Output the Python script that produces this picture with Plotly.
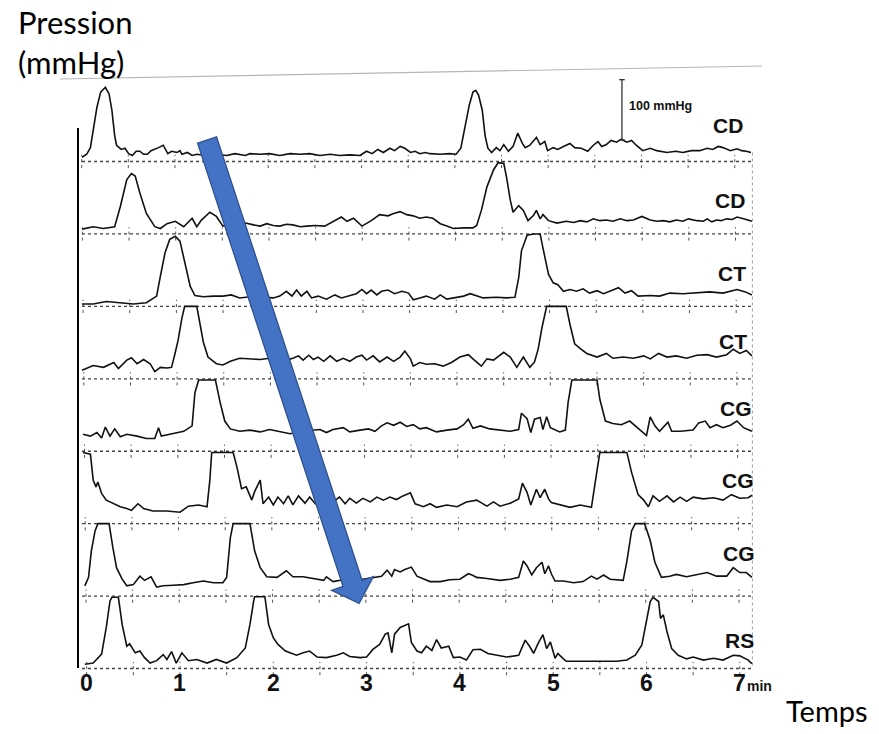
import math
import plotly.graph_objects as go

# ---------------------------------------------------------------------------
# Oesophageal manometry channels: (time in min, pressure in mmHg above baseline)
# ---------------------------------------------------------------------------
CD_1 = [(-0.05, 7), (0.00, 12), (0.04, 23), (0.08, 60), (0.11, 90), (0.15, 115), (0.20, 123), (0.24, 112),
        (0.27, 85), (0.30, 43), (0.32, 27), (0.37, 20), (0.41, 22), (0.45, 13), (0.49, 10), (0.53, 17),
        (0.57, 17), (0.61, 12), (0.65, 12), (0.69, 18), (0.73, 20), (0.77, 23), (0.82, 27), (0.85, 18),
        (0.87, 13), (0.91, 17), (0.97, 15), (1.00, 18), (1.02, 12), (1.08, 15), (1.13, 10), (1.18, 12),
        (1.27, 10), (1.38, 12), (1.50, 10), (1.59, 13), (1.70, 10), (1.75, 13), (1.86, 12), (1.96, 13),
        (2.07, 10), (2.18, 13), (2.29, 12), (2.39, 13), (2.50, 10), (2.61, 12), (2.71, 10), (2.82, 11),
        (2.93, 10), (3.00, 17), (3.06, 13), (3.12, 20), (3.18, 15), (3.25, 22), (3.30, 18), (3.36, 25),
        (3.41, 22), (3.47, 15), (3.52, 17), (3.57, 13), (3.63, 15), (3.68, 13), (3.79, 12), (3.89, 13),
        (3.96, 12), (4.01, 22), (4.05, 52), (4.10, 93), (4.14, 115), (4.17, 118), (4.20, 110), (4.24, 85),
        (4.27, 43), (4.30, 22), (4.34, 15), (4.39, 23), (4.43, 18), (4.47, 28), (4.52, 17), (4.57, 25),
        (4.62, 47), (4.67, 30), (4.70, 23), (4.75, 27), (4.82, 40), (4.86, 28), (4.91, 33), (4.94, 18),
        (5.00, 23), (5.05, 20), (5.11, 25), (5.18, 30), (5.23, 23), (5.30, 22), (5.37, 17), (5.43, 27),
        (5.48, 33), (5.52, 25), (5.57, 28), (5.62, 35), (5.68, 32), (5.73, 37), (5.79, 32), (5.84, 35),
        (5.89, 27), (5.96, 18), (6.04, 22), (6.11, 18), (6.22, 15), (6.31, 17), (6.39, 15), (6.48, 18),
        (6.57, 18), (6.65, 22), (6.71, 20), (6.77, 25), (6.82, 23), (6.90, 18), (6.97, 21), (7.02, 18),
        (7.07, 17), (7.12, 15)]

CD_2 = [(-0.05, 8), (0.07, 12), (0.18, 9), (0.30, 12), (0.36, 45), (0.43, 90), (0.48, 100), (0.52, 96),
        (0.57, 68), (0.64, 34), (0.73, 12), (0.79, 9), (0.86, 17), (0.95, 21), (1.04, 12), (1.13, 26),
        (1.18, 12), (1.23, 23), (1.32, 36), (1.39, 29), (1.46, 13), (1.54, 16), (1.62, 15), (1.70, 18),
        (1.79, 15), (1.86, 13), (1.93, 17), (2.00, 14), (2.07, 13), (2.14, 16), (2.21, 15), (2.29, 12),
        (2.36, 13), (2.45, 14), (2.55, 13), (2.64, 21), (2.73, 28), (2.79, 21), (2.86, 26), (2.95, 13),
        (3.05, 22), (3.14, 32), (3.23, 30), (3.29, 34), (3.36, 37), (3.43, 32), (3.50, 30), (3.57, 26),
        (3.64, 28), (3.71, 26), (3.79, 17), (3.86, 13), (3.93, 9), (4.04, 10), (4.14, 10), (4.18, 14),
        (4.23, 39), (4.29, 78), (4.36, 106), (4.41, 118), (4.47, 117), (4.50, 94), (4.54, 56), (4.57, 36),
        (4.63, 47), (4.68, 39), (4.73, 22), (4.79, 31), (4.82, 39), (4.86, 25), (4.89, 32), (4.95, 22),
        (5.04, 18), (5.14, 21), (5.22, 19), (5.29, 22), (5.36, 20), (5.43, 25), (5.50, 22), (5.57, 23),
        (5.64, 21), (5.72, 25), (5.79, 22), (5.86, 23), (5.95, 29), (6.04, 23), (6.11, 21), (6.18, 22),
        (6.25, 20), (6.32, 23), (6.39, 21), (6.45, 25), (6.54, 22), (6.61, 21), (6.65, 25), (6.70, 20),
        (6.75, 23), (6.80, 22), (6.86, 25), (6.92, 24), (6.97, 28), (7.04, 25), (7.13, 21)]

CT_1 = [(-0.05, 4), (0.07, 4), (0.21, 8), (0.36, 6), (0.50, 4), (0.64, 6), (0.75, 17), (0.79, 50),
        (0.84, 89), (0.89, 111), (0.95, 116), (1.00, 108), (1.05, 72), (1.11, 33), (1.16, 18), (1.25, 16),
        (1.36, 17), (1.46, 17), (1.55, 19), (1.64, 14), (1.75, 16), (1.86, 15), (2.00, 14), (2.07, 17),
        (2.14, 25), (2.20, 17), (2.25, 27), (2.30, 17), (2.36, 25), (2.41, 14), (2.48, 17), (2.57, 12),
        (2.66, 19), (2.73, 14), (2.82, 18), (2.89, 21), (2.95, 28), (3.00, 21), (3.05, 27), (3.11, 19),
        (3.16, 25), (3.23, 27), (3.30, 21), (3.38, 25), (3.45, 22), (3.50, 11), (3.57, 14), (3.64, 17),
        (3.73, 12), (3.79, 19), (3.86, 12), (3.95, 14), (4.04, 17), (4.11, 21), (4.18, 17), (4.25, 14),
        (4.39, 15), (4.50, 14), (4.59, 15), (4.63, 47), (4.66, 92), (4.72, 118), (4.79, 120), (4.86, 120),
        (4.89, 97), (4.95, 53), (5.00, 39), (5.05, 36), (5.11, 25), (5.18, 28), (5.25, 25), (5.32, 29),
        (5.39, 22), (5.47, 26), (5.54, 21), (5.61, 25), (5.70, 31), (5.77, 22), (5.84, 26), (5.91, 17),
        (6.04, 18), (6.14, 17), (6.25, 22), (6.39, 21), (6.54, 22), (6.68, 24), (6.82, 22), (6.97, 28),
        (7.06, 24), (7.13, 19)]

CT_2 = [(-0.05, 14), (0.07, 22), (0.18, 19), (0.29, 27), (0.34, 17), (0.43, 31), (0.48, 35), (0.54, 25),
        (0.61, 32), (0.68, 25), (0.73, 12), (0.79, 19), (0.86, 18), (0.91, 19), (0.95, 44), (0.98, 64),
        (1.02, 100), (1.05, 120), (1.18, 120), (1.21, 95), (1.25, 61), (1.30, 36), (1.39, 25), (1.46, 23),
        (1.54, 29), (1.64, 34), (1.75, 33), (1.86, 32), (1.96, 34), (2.07, 33), (2.14, 31), (2.21, 34),
        (2.27, 38), (2.32, 31), (2.38, 39), (2.43, 32), (2.48, 36), (2.54, 29), (2.61, 38), (2.68, 29),
        (2.75, 34), (2.82, 29), (2.89, 36), (2.95, 39), (3.00, 31), (3.07, 38), (3.14, 28), (3.22, 36),
        (3.29, 29), (3.36, 36), (3.41, 46), (3.47, 33), (3.50, 21), (3.57, 27), (3.64, 24), (3.73, 25),
        (3.82, 21), (3.91, 27), (4.00, 36), (4.09, 40), (4.14, 33), (4.23, 21), (4.29, 33), (4.36, 31),
        (4.47, 44), (4.54, 36), (4.61, 19), (4.68, 36), (4.75, 19), (4.80, 28), (4.84, 50), (4.88, 85),
        (4.93, 120), (5.14, 120), (5.18, 90), (5.23, 58), (5.29, 50), (5.36, 42), (5.47, 36), (5.57, 42),
        (5.64, 34), (5.75, 36), (5.86, 34), (5.97, 38), (6.04, 33), (6.13, 42), (6.22, 36), (6.32, 38),
        (6.43, 34), (6.54, 39), (6.65, 40), (6.75, 36), (6.86, 40), (6.93, 49), (7.00, 42), (7.07, 47),
        (7.13, 38)]

CG_1 = [(-0.04, 28), (0.04, 25), (0.11, 31), (0.16, 22), (0.20, 40), (0.25, 25), (0.30, 37), (0.36, 24),
        (0.43, 28), (0.54, 25), (0.64, 21), (0.73, 21), (0.77, 39), (0.80, 25), (0.89, 28), (1.04, 33),
        (1.13, 42), (1.16, 97), (1.20, 118), (1.38, 118), (1.43, 81), (1.48, 50), (1.54, 37), (1.64, 33),
        (1.75, 35), (1.86, 32), (1.96, 36), (2.07, 33), (2.18, 29), (2.30, 33), (2.43, 35), (2.50, 36),
        (2.57, 31), (2.64, 36), (2.75, 39), (2.82, 32), (2.93, 35), (3.02, 37), (3.09, 33), (3.16, 42),
        (3.22, 47), (3.29, 43), (3.36, 48), (3.43, 41), (3.50, 44), (3.57, 37), (3.64, 39), (3.75, 32),
        (3.86, 35), (3.97, 37), (4.04, 44), (4.09, 53), (4.14, 38), (4.22, 42), (4.32, 37), (4.43, 35),
        (4.54, 33), (4.63, 36), (4.66, 63), (4.72, 54), (4.76, 31), (4.80, 53), (4.86, 56), (4.89, 36),
        (4.93, 57), (4.97, 39), (5.02, 35), (5.07, 32), (5.13, 35), (5.16, 81), (5.20, 118), (5.47, 118),
        (5.50, 86), (5.56, 50), (5.64, 46), (5.73, 44), (5.82, 50), (5.88, 42), (5.95, 32), (6.00, 26),
        (6.04, 57), (6.09, 42), (6.14, 33), (6.23, 48), (6.27, 33), (6.36, 33), (6.50, 35), (6.56, 47),
        (6.63, 50), (6.68, 39), (6.75, 44), (6.82, 39), (6.90, 43), (6.97, 50), (7.04, 39), (7.13, 33)]

CG_2 = [(-0.04, 118), (0.04, 115), (0.07, 72), (0.10, 61), (0.12, 69), (0.16, 50), (0.21, 39), (0.29, 33),
        (0.36, 28), (0.43, 25), (0.48, 22), (0.55, 33), (0.61, 25), (0.71, 21), (0.86, 21), (1.00, 19),
        (1.09, 29), (1.20, 31), (1.29, 28), (1.32, 72), (1.34, 118), (1.57, 118), (1.61, 94), (1.66, 58),
        (1.71, 61), (1.77, 39), (1.80, 53), (1.86, 72), (1.89, 33), (1.95, 44), (2.00, 31), (2.05, 44),
        (2.11, 33), (2.16, 46), (2.21, 31), (2.27, 46), (2.34, 34), (2.39, 44), (2.45, 33), (2.55, 40),
        (2.64, 36), (2.71, 44), (2.77, 33), (2.82, 42), (2.89, 34), (2.96, 42), (3.04, 36), (3.11, 44),
        (3.18, 39), (3.25, 44), (3.32, 40), (3.39, 46), (3.47, 51), (3.52, 33), (3.61, 28), (3.68, 33),
        (3.75, 27), (3.86, 31), (3.97, 28), (4.07, 36), (4.18, 39), (4.29, 29), (4.36, 36), (4.43, 29),
        (4.54, 34), (4.63, 41), (4.67, 67), (4.72, 52), (4.76, 31), (4.82, 57), (4.86, 43), (4.91, 57),
        (4.95, 41), (4.98, 35), (5.07, 31), (5.18, 27), (5.29, 31), (5.36, 29), (5.41, 27), (5.45, 68),
        (5.50, 118), (5.79, 118), (5.84, 85), (5.91, 48), (5.97, 39), (6.02, 28), (6.07, 46), (6.14, 37),
        (6.22, 46), (6.29, 36), (6.36, 44), (6.43, 37), (6.50, 44), (6.61, 41), (6.72, 43), (6.82, 39),
        (6.91, 48), (7.00, 42), (7.09, 43), (7.13, 47)]

CG_3 = [(-0.02, 17), (0.02, 31), (0.05, 75), (0.09, 108), (0.12, 120), (0.24, 120), (0.28, 81), (0.32, 47),
        (0.38, 28), (0.43, 17), (0.50, 19), (0.57, 33), (0.62, 26), (0.69, 32), (0.75, 15), (0.82, 17),
        (0.93, 18), (1.04, 19), (1.14, 22), (1.25, 25), (1.36, 22), (1.46, 22), (1.50, 31), (1.54, 97),
        (1.57, 120), (1.75, 120), (1.80, 75), (1.86, 47), (1.93, 32), (2.04, 31), (2.14, 42), (2.21, 32),
        (2.32, 32), (2.43, 29), (2.54, 26), (2.57, 32), (2.64, 24), (2.75, 27), (2.86, 25), (2.96, 28),
        (3.07, 31), (3.16, 33), (3.22, 43), (3.27, 33), (3.30, 44), (3.36, 40), (3.41, 44), (3.48, 48),
        (3.54, 33), (3.61, 29), (3.68, 24), (3.79, 24), (3.89, 27), (4.00, 28), (4.09, 37), (4.13, 35),
        (4.18, 31), (4.29, 29), (4.43, 26), (4.54, 28), (4.63, 31), (4.68, 58), (4.72, 50), (4.77, 35),
        (4.82, 47), (4.88, 56), (4.91, 37), (4.95, 50), (4.98, 37), (5.02, 25), (5.11, 25), (5.22, 22),
        (5.32, 24), (5.41, 33), (5.47, 28), (5.54, 35), (5.61, 28), (5.75, 26), (5.79, 58), (5.84, 108),
        (5.88, 120), (5.98, 120), (6.04, 92), (6.09, 56), (6.16, 31), (6.25, 33), (6.32, 36), (6.43, 32),
        (6.54, 36), (6.65, 39), (6.75, 33), (6.86, 33), (6.93, 47), (7.00, 39), (7.07, 39), (7.13, 31)]

RS_1 = [(-0.02, 7), (0.07, 9), (0.16, 24), (0.21, 68), (0.25, 112), (0.27, 118), (0.34, 118), (0.38, 73),
        (0.43, 37), (0.46, 41), (0.52, 26), (0.57, 29), (0.62, 18), (0.68, 9), (0.75, 13), (0.82, 23),
        (0.86, 15), (0.91, 28), (0.96, 9), (1.02, 26), (1.09, 13), (1.18, 15), (1.29, 9), (1.39, 15),
        (1.50, 9), (1.61, 18), (1.70, 34), (1.75, 73), (1.79, 112), (1.80, 119), (1.91, 119), (1.95, 73),
        (2.00, 51), (2.05, 40), (2.13, 29), (2.18, 26), (2.25, 22), (2.32, 26), (2.39, 29), (2.47, 19),
        (2.57, 18), (2.68, 22), (2.75, 26), (2.82, 20), (2.93, 18), (3.00, 19), (3.07, 32), (3.14, 40),
        (3.20, 57), (3.23, 59), (3.27, 26), (3.30, 57), (3.36, 68), (3.45, 74), (3.48, 43), (3.54, 29),
        (3.59, 26), (3.64, 37), (3.70, 30), (3.75, 48), (3.80, 34), (3.88, 37), (3.93, 18), (4.00, 19),
        (4.07, 14), (4.14, 31), (4.22, 32), (4.30, 25), (4.39, 22), (4.50, 19), (4.63, 22), (4.70, 47),
        (4.75, 36), (4.79, 25), (4.84, 42), (4.89, 56), (4.93, 33), (4.97, 44), (5.02, 17), (5.05, 25),
        (5.11, 16), (5.14, 12), (5.32, 12), (5.50, 12), (5.68, 12), (5.79, 14), (5.88, 22), (5.95, 39),
        (6.00, 78), (6.04, 111), (6.07, 118), (6.13, 111), (6.15, 83), (6.18, 89), (6.22, 61), (6.27, 33),
        (6.34, 22), (6.43, 16), (6.50, 19), (6.61, 14), (6.72, 17), (6.82, 14), (6.93, 22), (7.00, 21),
        (7.09, 14), (7.13, 8)]

CHANNELS = [CD_1, CD_2, CT_1, CT_2, CG_1, CG_2, CG_3, RS_1]
CHANNEL_NAMES = ["CD", "CD", "CT", "CT", "CG", "CG", "CG", "RS"]

TIME_TICKS = [0, 1, 2, 3, 4, 5, 6, 7]
TIME_TICK_LABELS = ["0", "1", "2", "3", "4", "5", "6", "7"]
TIME_UNIT = "min"
SCALE_BAR_MMHG = 100
ROW_SPACING_MMHG = 120          # vertical offset between stacked channels
RECORD_START, RECORD_END = -0.05, 7.13

# ---------------------------------------------------------------------------
# Canvas geometry
# ---------------------------------------------------------------------------
W, H = 879, 734
X_RANGE = (-0.929, 8.492)
Y_RANGE = (-948.5, 267.6)

INK = "#111111"
LABEL_FONT = "Liberation Sans, Arial, Helvetica, sans-serif"
TEXT_FONT = "Lato, Open Sans, sans-serif"


def data_to_px(t, y):
    px = (t - X_RANGE[0]) / (X_RANGE[1] - X_RANGE[0]) * W
    py = (Y_RANGE[1] - y) / (Y_RANGE[1] - Y_RANGE[0]) * H
    return px, py


def px_to_data(px, py):
    t = X_RANGE[0] + px / W * (X_RANGE[1] - X_RANGE[0])
    y = Y_RANGE[1] - py / H * (Y_RANGE[1] - Y_RANGE[0])
    return t, y


def block_arrow_path(start, end, half_shaft=10.0, head_len=21.0, head_half=22.0):
    """Block arrow outline (screen-true proportions) expressed in data units."""
    x0, y0 = data_to_px(*start)
    x1, y1 = data_to_px(*end)
    dx, dy = x1 - x0, y1 - y0
    length = math.hypot(dx, dy)
    ux, uy = dx / length, dy / length
    nx, ny = -uy, ux
    bx, by = x1 - ux * head_len, y1 - uy * head_len
    pts = [
        (x0 + nx * half_shaft, y0 + ny * half_shaft),
        (bx + nx * half_shaft, by + ny * half_shaft),
        (bx + nx * head_half, by + ny * head_half),
        (x1, y1),
        (bx - nx * head_half, by - ny * head_half),
        (bx - nx * half_shaft, by - ny * half_shaft),
        (x0 - nx * half_shaft, y0 - ny * half_shaft),
    ]
    coords = [px_to_data(*p) for p in pts]
    return "M " + " L ".join(f"{t:.4f},{y:.2f}" for t, y in coords) + " Z"


fig = go.Figure()

# Baselines with half-minute graduations (chart paper slightly skewed row to row)
n_rows = len(CHANNELS)
for k in range(n_rows):
    base = -ROW_SPACING_MMHG * k
    fig.add_trace(go.Scatter(
        x=[RECORD_START, RECORD_END], y=[base, base], mode="lines",
        line=dict(color="#444444", width=1.3, dash="dot"), hoverinfo="skip", showlegend=False))
    drift = -0.054 * (1 - k / (n_rows - 1))
    tx, ty = [], []
    for i in range(15):
        t = i * 0.5 + drift
        tx += [t, t, None]
        ty += [base - 11, base + 11, None]
    fig.add_trace(go.Scatter(
        x=tx, y=ty, mode="lines", line=dict(color="#555555", width=1, dash="dot"),
        hoverinfo="skip", showlegend=False))

# Right-hand edge of the chart paper
fig.add_trace(go.Scatter(
    x=[RECORD_END + 0.005, RECORD_END + 0.005], y=[15, -ROW_SPACING_MMHG * (n_rows - 1)],
    mode="lines", line=dict(color="#9a9a9a", width=1, dash="dot"), hoverinfo="skip", showlegend=False))

# Pressure traces, stacked
for k, channel in enumerate(CHANNELS):
    base = -ROW_SPACING_MMHG * k
    fig.add_trace(go.Scatter(
        x=[p[0] for p in channel], y=[p[1] + base for p in channel],
        mode="lines", line=dict(color=INK, width=1.6), name=CHANNEL_NAMES[k],
        hoverinfo="skip", showlegend=False))

# 100 mmHg calibration bar
bar_t, bar_low = 5.737, 35.6
cap = 0.03
fig.add_trace(go.Scatter(
    x=[bar_t, bar_t, None, bar_t - cap, bar_t + cap, None, bar_t - cap, bar_t + cap],
    y=[bar_low, bar_low + SCALE_BAR_MMHG, None, bar_low, bar_low, None,
       bar_low + SCALE_BAR_MMHG, bar_low + SCALE_BAR_MMHG],
    mode="lines", line=dict(color="#333333", width=1.3), hoverinfo="skip", showlegend=False))

shapes = []
# left vertical axis line
shapes.append(dict(type="line", xref="x", yref="y", x0=-0.093, x1=-0.093, y0=55.5, y1=-839,
                   line=dict(color="black", width=2)))
# thin grey rule under the axis title
shapes.append(dict(type="line", xref="paper", yref="paper", x0=60 / W, y0=1 - 79 / H, x1=762 / W, y1=1 - 66 / H,
                   line=dict(color="#b5b5b5", width=1.1)))
# propagation arrow
shapes.append(dict(type="path", xref="x", yref="y",
                   path=block_arrow_path((1.29, 35.6), (2.92, -732.0)),
                   fillcolor="#4472C4", line=dict(color="#2F528F", width=1.3), layer="above"))

annotations = []
# time tick labels
tick_y = px_to_data(0, 683)[1]
for t, lab in zip(TIME_TICKS, TIME_TICK_LABELS):
    annotations.append(dict(x=t, y=tick_y, xref="x", yref="y", text=lab, showarrow=False,
                            xanchor="center", yanchor="middle",
                            font=dict(family=LABEL_FONT, size=23, color=INK, weight="bold")))
annotations.append(dict(x=TIME_TICKS[-1] + 0.06, y=px_to_data(0, 686)[1], xref="x", yref="y",
                        text=TIME_UNIT, showarrow=False, xanchor="left", yanchor="middle",
                        font=dict(family=LABEL_FONT, size=14, color=INK, weight="bold")))

# channel names on the right
label_lift = [60, 56, 55, 62, 70, 71, 70, 47]
label_t = [6.87, 6.90, 6.92, 6.93, 6.96, 6.98, 6.99, 7.00]
for k, name in enumerate(CHANNEL_NAMES):
    annotations.append(dict(x=label_t[k], y=-ROW_SPACING_MMHG * k + label_lift[k], xref="x", yref="y",
                            text=name, showarrow=False, xanchor="center", yanchor="middle",
                            font=dict(family=LABEL_FONT, size=21, color=INK, weight="bold")))

# calibration bar label
annotations.append(dict(x=bar_t + 0.055, y=bar_low + 0.5 * SCALE_BAR_MMHG + 7, xref="x", yref="y",
                        text=f"{SCALE_BAR_MMHG} mmHg", showarrow=False, xanchor="left", yanchor="middle",
                        font=dict(family=LABEL_FONT, size=12.5, color=INK, weight="bold")))

# axis titles
annotations.append(dict(x=16 / W, y=1 - 1 / H, xref="paper", yref="paper", text="Pression<br>(mmHg)",
                        showarrow=False, xanchor="left", yanchor="top", align="left",
                        font=dict(family=TEXT_FONT, size=31, color="black")))
annotations.append(dict(x=784 / W, y=1 - 691 / H, xref="paper", yref="paper", text="Temps",
                        showarrow=False, xanchor="left", yanchor="top",
                        font=dict(family=TEXT_FONT, size=29, color="black")))

fig.update_layout(
    width=W, height=H, autosize=False,
    margin=dict(l=0, r=0, t=0, b=0, pad=0),
    paper_bgcolor="white", plot_bgcolor="white",
    xaxis=dict(range=list(X_RANGE), visible=False, fixedrange=True),
    yaxis=dict(range=list(Y_RANGE), visible=False, fixedrange=True),
    shapes=shapes, annotations=annotations, showlegend=False,
)

fig.write_html("out.html")
